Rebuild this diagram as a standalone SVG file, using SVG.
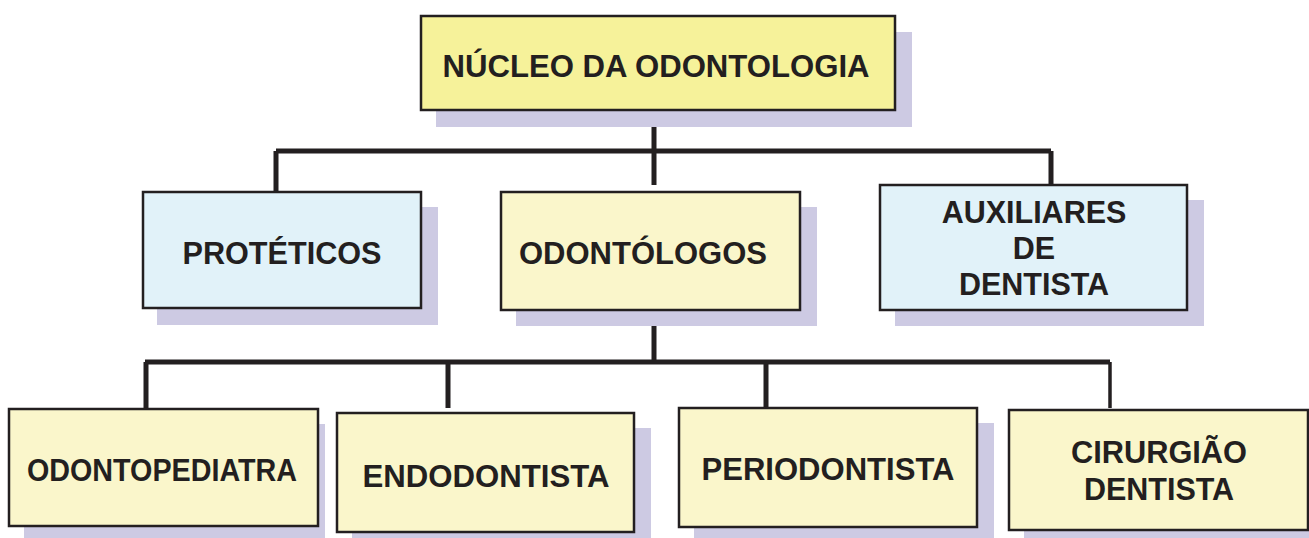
<svg xmlns="http://www.w3.org/2000/svg" width="1309" height="538" viewBox="0 0 1309 538">
<style>
.sh{fill:#cdcae3;stroke:none}
.y1{fill:#f6f29a;stroke:#231f20;stroke-width:2.5}
.y2{fill:#faf6cb;stroke:#231f20;stroke-width:2.5}
.b{fill:#e1f2f9;stroke:#231f20;stroke-width:2.5}
.t{font-family:"Liberation Sans",Arial,sans-serif;font-weight:bold;font-size:30.5px;fill:#231f20;text-anchor:middle}
.c{stroke:#231f20;stroke-width:5;fill:none}
.c2{stroke:#231f20;stroke-width:3.5;fill:none}
</style>
<rect width="1309" height="538" fill="#ffffff"/>
<g id="connectors">
<path class="c" d="M654 110 V185 M276 151 H1051 M276 151 V192 M1051 151 V185"/>
<path class="c" d="M654 310 V362 M145 362 H1110 M146 362 V408 M448 362 V408 M766 362 V408"/>
<path class="c2" d="M1110 362 V408"/>
</g>
<g id="nucleo">
<rect class="sh" x="436" y="32" width="476" height="95"/>
<rect class="y1" x="421" y="16" width="474" height="94"/>
<text class="t" x="656" y="77" textLength="427" lengthAdjust="spacingAndGlyphs">NÚCLEO DA ODONTOLOGIA</text>
</g>
<g id="proteticos">
<rect class="sh" x="157" y="207" width="281" height="118"/>
<rect class="b" x="143" y="192" width="278" height="116"/>
<text class="t" x="282" y="264" textLength="199" lengthAdjust="spacingAndGlyphs">PROTÉTICOS</text>
</g>
<g id="odontologos">
<rect class="sh" x="516" y="207" width="301" height="119"/>
<rect class="y2" x="501" y="192" width="299" height="118"/>
<text class="t" x="643" y="264" textLength="248" lengthAdjust="spacingAndGlyphs">ODONTÓLOGOS</text>
</g>
<g id="auxiliares">
<rect class="sh" x="895" y="200" width="309" height="126"/>
<rect class="b" x="880" y="185" width="307" height="125"/>
<text class="t" x="1034" y="223">AUXILIARES</text>
<text class="t" x="1034" y="259">DE</text>
<text class="t" x="1034" y="295">DENTISTA</text>
</g>
<g id="odontopediatra">
<rect class="sh" x="24" y="424" width="301" height="114"/>
<rect class="y2" x="9" y="409" width="309" height="117"/>
<text class="t" x="162" y="481" textLength="270" lengthAdjust="spacingAndGlyphs">ODONTOPEDIATRA</text>
</g>
<g id="endodontista">
<rect class="sh" x="352" y="428" width="299" height="110"/>
<rect class="y2" x="337" y="413" width="297" height="119"/>
<text class="t" x="486" y="487" textLength="247" lengthAdjust="spacingAndGlyphs">ENDODONTISTA</text>
</g>
<g id="periodontista">
<rect class="sh" x="694" y="423" width="300" height="115"/>
<rect class="y2" x="679" y="408" width="298" height="119"/>
<text class="t" x="828" y="480" textLength="253" lengthAdjust="spacingAndGlyphs">PERIODONTISTA</text>
</g>
<g id="cirurgiao">
<rect class="sh" x="1024" y="425" width="285" height="113"/>
<rect class="y2" x="1009" y="410" width="299" height="120"/>
<text class="t" x="1159" y="463" textLength="176" lengthAdjust="spacingAndGlyphs">CIRURGIÃO</text>
<text class="t" x="1159" y="500">DENTISTA</text>
</g>
</svg>
